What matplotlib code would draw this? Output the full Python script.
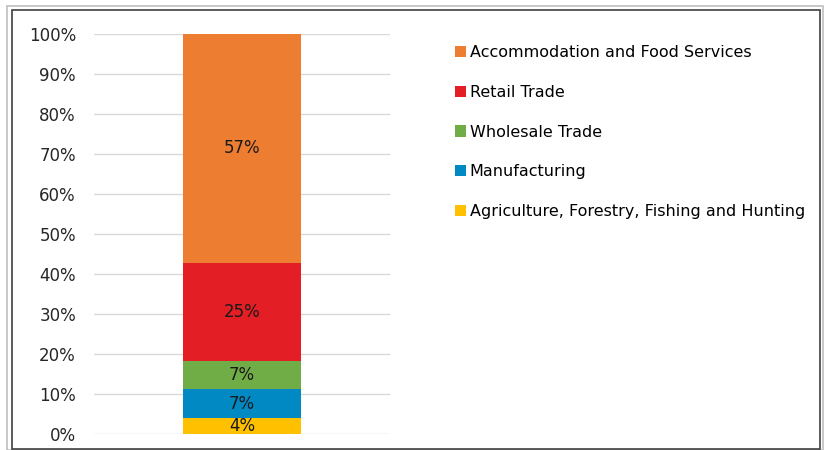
import matplotlib
matplotlib.use("Agg")
import matplotlib.pyplot as plt
from matplotlib.patches import Patch, Rectangle

# shares of one stacked bar, bottom to top
sectors = ["Agriculture, Forestry, Fishing and Hunting", "Manufacturing",
           "Wholesale Trade", "Retail Trade", "Accommodation and Food Services"]
shares = [4.1, 7.1, 7.1, 24.4, 57.3]
share_labels = ["4%", "7%", "7%", "25%", "57%"]
colors = ["#FFC000", "#0089C2", "#70AD47", "#E31E24", "#ED7D31"]
yticks = [0, 10, 20, 30, 40, 50, 60, 70, 80, 90, 100]

plt.rcParams["font.family"] = ["DejaVu Sans"]

fig = plt.figure(figsize=(8.28, 4.5), dpi=100)
fig.patch.set_facecolor("white")

# double frame round the chart
fig.patches.append(Rectangle((7 / 828, 0), 816 / 828, 444 / 450, transform=fig.transFigure,
                             fill=False, edgecolor="#bfbfbf", lw=1.2))
fig.patches.append(Rectangle((12 / 828, 1 / 450), 808 / 828, 439 / 450, transform=fig.transFigure,
                             fill=False, edgecolor="#404040", lw=1.2))

ax = fig.add_axes([94 / 828, 15.7 / 450, 296 / 828, 400.6 / 450])

bottom = 0
for name, val, lab, c in zip(sectors, shares, share_labels, colors):
    ax.bar(0, val, width=0.8, bottom=bottom, color=c, label=name, zorder=3)
    ax.text(0, bottom + val / 2, lab, ha="center", va="center", fontsize=12,
            color="#1a1a1a", zorder=4)
    bottom += val

ax.set_xlim(-1, 1)
ax.set_ylim(0, 100)
ax.set_yticks(yticks)
ax.set_yticklabels([f"{t}%" for t in yticks], fontsize=12, color="#262626")
ax.tick_params(axis="y", length=0, pad=13)
ax.set_xticks([])
ax.grid(axis="y", color="#d9d9d9", lw=1, zorder=0)
for s in ax.spines.values():
    s.set_visible(False)

handles = [Patch(facecolor=c, edgecolor="none") for c in colors][::-1]
fig.legend(handles, sectors[::-1], loc="upper left", bbox_to_anchor=(455 / 828, 1 - 45 / 450),
           frameon=False, fontsize=11.5, handlelength=0.7, handleheight=0.7,
           handletextpad=0.22, labelspacing=1.55, borderpad=0, borderaxespad=0)

fig.savefig("out.png", dpi=100, facecolor="white")
